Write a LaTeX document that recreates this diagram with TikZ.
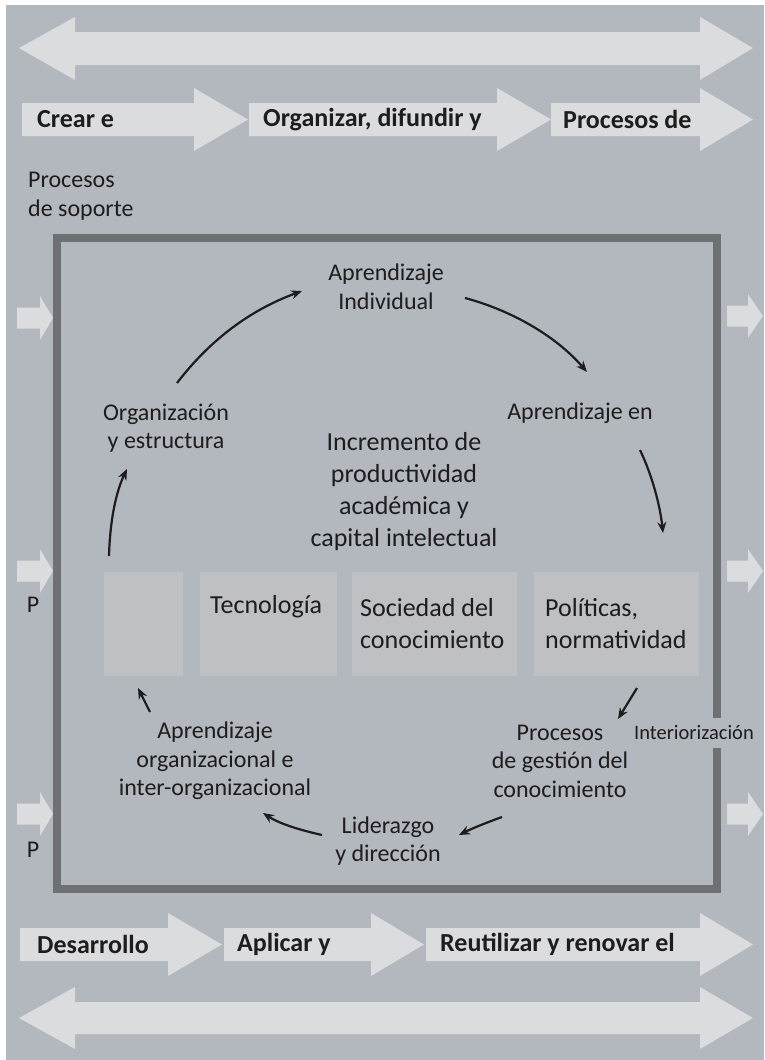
\documentclass[tikz,border=0pt]{standalone}
\usepackage{fontspec}
\setmainfont{Carlito}
\usetikzlibrary{arrows.meta}
\definecolor{bgc}{RGB}{179,184,191}
\definecolor{lightc}{RGB}{218,220,222}
\definecolor{boxc}{RGB}{190,192,196}
\definecolor{framec}{RGB}{110,112,115}
\definecolor{txtc}{RGB}{30,28,28}
\newcommand\fLab{\fontsize{24}{28.5}\selectfont}
\newcommand\fBox{\fontsize{26}{32}\selectfont}
\newcommand\fBold{\bfseries\fontsize{26}{30}\selectfont}
\newcommand\fSmall{\fontsize{20.5}{24}\selectfont}
\tikzset{
  lightarrow/.style={fill=lightc, draw=none},
  lab/.style={text=txtc, inner sep=0pt, align=center, font=\fLab},
  boxtxt/.style={text=txtc, inner sep=0pt, align=left, font=\fBox, anchor=west},
  boldtxt/.style={text=txtc, inner sep=0pt, font=\fBold, anchor=west},
  conn/.style={draw=txtc, line width=2.2pt, -{Stealth[length=11pt,width=9pt]}},
  inbox/.style={fill=boxc, draw=none}
}
\begin{document}
\begin{tikzpicture}[x=1pt,y=-1pt]
\useasboundingbox (0,0) rectangle (764,1060);
\fill[white] (0,0) rectangle (764,1060);
\fill[bgc] (6,5) rectangle (764,1060);
% top double arrow
\fill[lightarrow] (19,48) -- (75,17) -- (75,32) -- (700,32) -- (700,17) -- (753,48) -- (700,80) -- (700,65) -- (75,65) -- (75,80) -- cycle;
% top chevrons
\fill[lightarrow] (22,103) -- (194,103) -- (194,88) -- (248,119.5) -- (194,151) -- (194,136) -- (22,136) -- cycle;
\fill[lightarrow] (249,103) -- (497,103) -- (497,88) -- (551,119.5) -- (497,151) -- (497,136) -- (249,136) -- cycle;
\fill[lightarrow] (551,103) -- (700,103) -- (700,88) -- (753,119.5) -- (700,151) -- (700,136) -- (551,136) -- cycle;
\node[boldtxt] (t1) at (37,119.5) {Crear e};
\node[boldtxt] (t2) at (263,119.5) {Organizar, difundir y};
\node[boldtxt] (t3) at (563,119.5) {Procesos de};
% bottom chevrons
\fill[lightarrow] (20,928) -- (168,928) -- (168,913) -- (222,944.5) -- (168,976) -- (168,961) -- (20,961) -- cycle;
\fill[lightarrow] (224,928) -- (371,928) -- (371,913) -- (424,944.5) -- (371,976) -- (371,961) -- (224,961) -- cycle;
\fill[lightarrow] (426,928) -- (700,928) -- (700,913) -- (753,944.5) -- (700,976) -- (700,961) -- (426,961) -- cycle;
\node[boldtxt] (b1) at (37,944.5) {Desarrollo};
\node[boldtxt] (b2) at (237,944.5) {Aplicar y};
\node[boldtxt] (b3) at (440,944.5) {Reutilizar y renovar el};
% bottom double arrow
\fill[lightarrow] (19,1018) -- (75,987) -- (75,1002) -- (700,1002) -- (700,987) -- (753,1018) -- (700,1049) -- (700,1034) -- (75,1034) -- (75,1049) -- cycle;
% side arrows
\foreach \yy in {318,571,814}{
  \fill[lightarrow] (17,\yy-10.5) -- (40,\yy-10.5) -- (40,\yy-22) -- (53,\yy) -- (40,\yy+22) -- (40,\yy+10.5) -- (17,\yy+10.5) -- cycle;
}
\foreach \yy in {316,571,814}{
  \fill[lightarrow] (727,\yy-10.5) -- (748,\yy-10.5) -- (748,\yy-22) -- (763,\yy) -- (748,\yy+22) -- (748,\yy+10.5) -- (727,\yy+10.5) -- cycle;
}
% frame
\draw[framec, line width=8pt, line join=miter] (716.5,718) -- (716.5,238) -- (57,238) -- (57,889) -- (716.5,889) -- (716.5,748);
\node[text=txtc, inner sep=0pt, font=\fSmall] (inter) at (694,733) {Interiorización};
% support label
\node[text=txtc, inner sep=0pt, align=left, font=\fLab, anchor=north west] (sop) at (28,172) {Procesos\\de soporte};
\node[text=txtc, inner sep=0pt, font=\fLab] (p1) at (33,605) {P};
\node[text=txtc, inner sep=0pt, font=\fLab] (p2) at (33,850) {P};
% inner boxes
\fill[inbox] (104,572) rectangle (183,676);
\fill[inbox] (200,572) rectangle (337,676);
\fill[inbox] (352,572) rectangle (517,676);
\fill[inbox] (534,572) rectangle (699,676);
\node[boxtxt] (tec) at (210,607) {Tecnología};
\node[boxtxt] (soc) at (360,624) {Sociedad del\\conocimiento};
\node[boxtxt] (pol) at (545,624) {Políticas,\\normatividad};
% center text
\node[text=txtc, inner sep=0pt, align=center, font=\fBox] (inc) at (404,492) {Incremento de\\productividad\\académica y\\capital intelectual};
% cycle labels
\node[lab] (ai) at (386,287) {Aprendizaje\\Individual};
\node[lab] (ae) at (580,413) {Aprendizaje en};
\node[lab] (oe) at (166,428) {Organización\\y estructura};
\node[lab] (pg) at (560,761) {Procesos\\de gestión del\\conocimiento};
\node[lab] (ao) at (215,761) {Aprendizaje\\organizacional e\\inter-organizacional};
\node[lab] (ld) at (388,841) {Liderazgo\\y dirección};
% connector endpoints
\coordinate (c1s) at (177,383); \coordinate (c1e) at (302,291);
\coordinate (c2s) at (465,298); \coordinate (c2e) at (587,372);
\coordinate (c3s) at (640,450); \coordinate (c3e) at (663,533);
\coordinate (c4s) at (637,688); \coordinate (c4e) at (618,719);
\coordinate (c5s) at (502,817); \coordinate (c5e) at (459,835);
\coordinate (c6s) at (322,835); \coordinate (c6e) at (263,813);
\coordinate (c7s) at (150,712); \coordinate (c7e) at (138,688);
\coordinate (c8s) at (109,556); \coordinate (c8e) at (127,469);
\draw[conn] (c1s) .. controls (210,340) and (250,310) .. (c1e);
\draw[conn] (c2s) .. controls (510,310) and (555,335) .. (c2e);
\draw[conn] (c3s) .. controls (652,475) and (660,505) .. (c3e);
\draw[conn] (c4s) -- (c4e);
\draw[conn] (c5s) .. controls (488,822) and (473,828) .. (c5e);
\draw[conn] (c6s) .. controls (300,830) and (280,824) .. (c6e);
\draw[conn] (c7s) -- (c7e);
\draw[conn] (c8s) .. controls (110,520) and (116,492) .. (c8e);
\end{tikzpicture}
\end{document}
